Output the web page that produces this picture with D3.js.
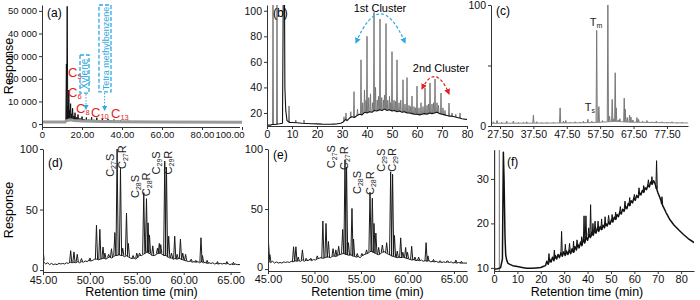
<!DOCTYPE html>
<html>
<head>
<meta charset="utf-8">
<script src="https://cdn.jsdelivr.net/npm/d3@7"></script>
<style>
  body { margin: 0; background: #fff; }
  svg { font-family: "Liberation Sans", Arial, sans-serif; }
  .tick line, .domain { stroke: #333; }
  .tick text { fill: #111; }
</style>
</head>
<body>
<svg id="fig" width="700" height="300"></svg>
<script>
// ---- (a) whole oil GC, response vs time ----
var aBase = [[0, 900], [11.5, 900], [12, 1400], [14, 1900], [16, 1600], [20, 1300], [30, 1100], [40, 1000], [60, 950], [100, 850]];
var aPeaks = [[12.2, 26500], [12.6, 52000], [13.0, 8000], [13.4, 15000], [13.8, 6000], [14.3, 9000], [14.8, 4500],
  [15.3, 7000], [15.9, 3500], [16.5, 5000], [17.2, 3000], [18.0, 4200], [19.0, 2600], [20.0, 3300], [21.0, 2200],
  [22.2, 2900], [23.5, 2000], [24.8, 3000], [26.0, 1900], [27.4, 2800], [28.8, 1800], [30.2, 2500], [31.6, 1700],
  [33.0, 2300], [34.5, 1600], [36.0, 2000], [37.6, 1500], [39.2, 1700], [41.0, 1400], [43.0, 1500], [45.0, 1300],
  [47.5, 1300], [50.0, 1200], [53.0, 1200], [56.0, 1100], [60.0, 1100], [64.0, 1200], [66.0, 1100]];
var aYTicks = [0, 10000, 20000, 30000, 40000, 50000];
var aXTicks = [0, 20, 40, 60, 80, 100];
var aCarbon = [["5", 13, 20800], ["6", 13, 11900], ["8", 17, 4900], ["10", 24.5, 3100], ["13", 34.5, 2650]];

// ---- (b) saturates, two clusters ----
var bBase = [[0, 10.5], [1.5, 10.5], [2, 11], [3, 11], [5, 11.5], [6.2, 12], [6.5, 110], [7.0, 110], [7.15, 40], [7.5, 22],
  [8.0, 14], [9, 12.5], [10, 12.5], [12, 12.3], [14, 12], [16, 11.8], [18, 11.6], [20, 11.5], [22, 11.3], [24, 11.2],
  [26, 11.3], [28, 11.5], [29.5, 12], [30.5, 13], [31.5, 15], [32, 14], [33, 16], [34, 17], [35, 16.5], [36, 18],
  [37, 19], [38, 18.5], [39, 20.5], [40, 20], [41, 21], [42, 20.5], [43, 22], [44, 21.5], [45, 22.5], [46, 22],
  [47, 23], [48, 22], [49, 22.5], [50, 21.5], [51, 22], [52, 21], [53, 21.5], [54, 20.5], [55, 21], [56, 20],
  [57, 20], [58, 19.5], [59, 19], [60, 19], [61, 18.5], [62, 19], [63, 19.5], [64, 19], [65, 20], [66, 19.5],
  [67, 20], [68, 20.5], [69, 19.5], [70, 19], [71, 18.5], [72, 18], [73, 17.5], [74, 17.5], [75, 17], [76, 16.5],
  [77, 16], [78, 15.5], [79, 15.2], [80, 15]];
var bPeaks = [[2.4, 110], [4.0, 110], [8.8, 25.5], [11.5, 14.5], [14.8, 14.5], [30.8, 17], [31.6, 20], [33.5, 21],
  [34.8, 36.7], [36.2, 23], [37.6, 61.6], [38.3, 28], [39.0, 38], [39.6, 30], [40.0, 80], [40.7, 32], [41.4, 35],
  [42.2, 28], [42.8, 98.7], [43.4, 40], [44.1, 30], [44.6, 33], [45.2, 93.5], [45.9, 32], [46.6, 30], [47.0, 34],
  [47.6, 90], [48.3, 30], [49.0, 33], [49.4, 28], [50.0, 68], [50.8, 30], [51.4, 29], [52.0, 61.6], [52.8, 28],
  [53.5, 30], [54.4, 46], [55.2, 27], [56.0, 47.7], [56.8, 26], [57.4, 25], [58.0, 33.3], [58.8, 25], [59.4, 24],
  [60.0, 41], [60.8, 24], [61.6, 28], [62.4, 25], [63.2, 39.6], [64.0, 26], [64.6, 27], [65.2, 43.5], [66.0, 27],
  [66.6, 28], [67.2, 46.6], [68.0, 28], [68.6, 26], [69.6, 35.6], [70.4, 24], [71.2, 22], [72.8, 27.8], [74.0, 20],
  [75.5, 19], [77.2, 20]];
var bYTicks = [20, 40, 60, 80, 100];
var bXTicks = [0, 10, 20, 30, 40, 50, 60, 70, 80];

// ---- (c) terpanes m/z 191 ----
var cBase = [[24.8, 2.2], [30, 2.3], [40, 2.4], [50, 2.6], [55, 2.8], [58, 3.2], [60, 3.5], [62, 3.8], [64, 3.5],
  [66, 3.2], [70, 3], [75, 2.8], [80, 2.6], [83.8, 2.5]];
var cPeaks = [[25.5, 3.5], [26.6, 4.5], [28, 3], [29.5, 4], [31.5, 4], [33, 3], [34.5, 3], [35.5, 3.5], [37.5, 9],
  [38.5, 3.5], [40, 2.8], [41.5, 3], [43.5, 3], [45.5, 15], [46.5, 4], [47.2, 4.5], [48.5, 3.2], [50, 3.5],
  [51.5, 3.2], [52.5, 4], [53.8, 5.5], [55, 4], [56.45, 79], [57.1, 16], [58.2, 4.5], [59.8, 100], [60.3, 8],
  [61.1, 22], [61.4, 6], [62.0, 44], [62.3, 15], [62.9, 5], [63.4, 6], [64.7, 23], [65.0, 14], [65.6, 7], [66.3, 9],
  [66.7, 7.5], [67.3, 5], [68.5, 7], [69.0, 5.5], [70.2, 4], [71.5, 4.5], [73, 3.5], [74.3, 4], [76, 3.5],
  [77.5, 3.2], [79, 3.5], [80.5, 3], [82, 3.2]];
var cYTicks = [0, 50, 100];
var cXTicks = [27.5, 37.5, 47.5, 57.5, 67.5, 77.5];

// ---- (d) steranes sample 1 ----
var dBase = [[45.0, 8], [45.15, 6], [45.3, 5], [45.5, 6], [45.7, 4.5], [45.9, 5.5], [46.1, 4.5], [46.3, 5], [46.5, 4.5],
  [46.7, 5.5], [46.9, 5], [47.1, 5.5], [47.3, 5], [47.5, 6], [47.7, 5.5], [47.9, 6.5], [48.1, 6], [48.3, 6.5],
  [48.5, 6], [48.7, 7], [48.9, 6], [49.1, 7], [49.3, 6.5], [49.5, 7.5], [49.7, 7], [49.9, 8], [50.1, 7.5], [50.3, 8],
  [50.5, 9], [50.7, 9], [50.9, 8.5], [51.1, 9], [51.3, 9.5], [51.5, 10], [51.7, 9], [51.9, 10], [52.1, 11], [52.3, 10],
  [52.5, 11], [52.7, 12], [52.9, 12], [53.1, 13], [53.3, 12], [53.5, 12], [53.7, 11], [53.9, 12], [54.1, 11],
  [54.3, 10], [54.5, 9.5], [54.7, 10], [54.9, 9], [55.1, 11], [55.3, 12], [55.5, 12], [55.7, 13], [55.9, 14],
  [56.1, 15], [56.3, 14], [56.5, 13], [56.7, 12], [56.9, 12], [57.1, 13], [57.3, 14], [57.5, 14], [57.7, 13],
  [57.9, 12], [58.1, 12], [58.3, 11], [58.5, 10], [58.7, 10], [58.9, 9], [59.1, 9.5], [59.3, 9], [59.5, 10],
  [59.7, 9], [59.9, 8.5], [60.1, 8], [60.3, 7.5], [60.5, 7], [60.7, 7.5], [60.9, 6.5], [61.1, 7], [61.3, 6.5],
  [61.5, 7], [61.7, 6], [61.9, 7], [62.1, 6], [62.3, 6.5], [62.5, 5.5], [62.7, 6], [62.9, 5.5], [63.1, 6], [63.3, 5],
  [63.5, 5.5], [63.7, 5], [63.9, 5.5], [64.1, 5], [64.3, 5.5], [64.5, 5], [64.7, 5.5], [64.9, 4.5], [65.1, 5],
  [65.3, 4.5], [65.5, 5], [65.7, 4.5], [66.0, 4.5]];
var dPeaks = [[45.0, 18], [47.95, 16], [48.3, 15], [48.65, 13], [49.1, 9.5], [50.0, 10], [50.7, 37], [51.06, 33.6],
  [51.4, 19], [51.6, 14], [52.0, 13], [52.3, 17.6], [52.66, 31], [52.9, 100], [53.26, 84], [53.5, 18], [53.9, 47],
  [54.1, 22], [54.6, 12], [55.0, 14], [55.3, 14], [55.74, 64], [56.03, 59], [56.2, 39], [56.35, 29], [56.7, 20],
  [57.2, 18], [57.4, 22], [57.55, 21], [57.98, 90], [58.16, 85], [58.4, 28], [58.7, 14], [59.04, 28], [59.3, 13],
  [59.65, 25.6], [59.9, 14], [60.2, 13], [60.8, 9], [61.3, 8], [61.84, 26.7], [62.0, 12], [62.5, 8], [63.6, 7],
  [64.6, 7], [65.3, 6.5]];
var dLabels = [["27", "S", 52.6, 77], ["27", "R", 53.8, 83.5], ["28", "S", 55.27, 59.5], ["28", "R", 56.44, 61],
  ["29", "S", 57.45, 79], ["29", "R", 58.72, 79]];

// ---- (e) steranes sample 2 ----
var eBase = [[45.0, 9], [45.15, 6], [45.3, 5.5], [45.5, 6.5], [45.7, 5], [45.9, 6], [46.1, 5], [46.3, 5.5], [46.5, 5],
  [46.7, 6], [46.9, 5.5], [47.1, 6], [47.3, 5.5], [47.5, 6.5], [47.7, 6], [47.9, 7], [48.1, 6.5], [48.3, 7],
  [48.5, 6.5], [48.7, 7.5], [48.9, 6.5], [49.1, 7.5], [49.3, 7], [49.5, 8], [49.7, 7], [49.9, 8], [50.1, 7.5],
  [50.3, 8.5], [50.5, 9], [50.7, 9.5], [50.9, 9], [51.1, 9.5], [51.3, 10], [51.5, 10], [51.7, 9.5], [51.9, 10.5],
  [52.1, 11], [52.3, 10.5], [52.5, 11.5], [52.7, 12], [52.9, 12.5], [53.1, 13], [53.3, 12.5], [53.5, 12],
  [53.7, 11.5], [53.9, 12], [54.1, 11], [54.3, 10.5], [54.5, 10], [54.7, 10.5], [54.9, 9.5], [55.1, 11], [55.3, 12],
  [55.5, 12.5], [55.7, 13], [55.9, 14], [56.1, 15], [56.3, 14], [56.5, 13.5], [56.7, 12.5], [56.9, 12], [57.1, 13],
  [57.3, 14], [57.5, 14.5], [57.7, 13.5], [57.9, 12.5], [58.1, 12], [58.3, 11], [58.5, 10.5], [58.7, 10], [58.9, 9.5],
  [59.1, 10], [59.3, 9.5], [59.5, 10], [59.7, 9.5], [59.9, 9], [60.1, 8.5], [60.3, 8], [60.5, 7.5], [60.7, 8],
  [60.9, 7], [61.1, 7.5], [61.3, 7], [61.5, 7.5], [61.7, 6.5], [61.9, 7], [62.1, 6.5], [62.3, 7], [62.5, 6],
  [62.7, 6.5], [62.9, 6], [63.1, 6.5], [63.3, 5.5], [63.5, 6], [63.7, 5.5], [63.9, 6], [64.1, 5.5], [64.3, 6],
  [64.5, 5.5], [64.7, 6], [64.9, 5], [65.1, 5.5], [65.3, 5], [65.5, 5.5], [65.7, 5], [66.0, 5], [66.4, 5]];
var ePeaks = [[45.05, 23], [45.2, 12], [47.75, 18.6], [48.0, 18.6], [48.25, 10], [48.7, 16], [49.1, 9], [49.6, 9],
  [50.3, 11], [50.9, 40], [51.24, 38], [51.5, 23], [52.0, 17], [52.3, 16], [52.6, 19], [53.03, 33], [53.28, 91],
  [53.45, 85], [53.65, 22], [54.03, 50.5], [54.2, 25], [54.6, 13], [55.1, 13], [55.6, 16], [55.97, 64], [56.22, 59],
  [56.4, 38], [56.6, 30], [56.9, 18], [57.3, 20], [57.76, 22], [58.19, 81], [58.4, 79], [58.6, 28], [58.9, 15],
  [59.27, 26], [59.5, 14], [59.8, 18], [60.0, 14], [60.45, 19], [60.8, 10], [61.2, 10], [62.0, 22], [62.2, 11],
  [62.8, 8], [63.5, 7], [64.3, 7], [65.2, 7.5], [65.8, 6.5]];
var eLabels = [["27", "S", 52.2, 84], ["27", "R", 53.6, 82.5], ["28", "S", 55.05, 62.5], ["28", "R", 56.4, 61.7],
  ["29", "S", 57.6, 81], ["29", "R", 58.76, 81]];
var steraneXTicks = [45, 50, 55, 60, 65];
var steraneYTicks = [0, 50, 100];

// ---- (f) hump ----
var fBase = [[0, 9.7], [1.5, 9.8], [2.8, 10], [3.6, 12], [4.0, 36], [4.3, 30], [4.7, 17], [5.0, 13], [5.4, 11.8],
  [6, 11], [6.8, 10.8], [8, 10.5], [10, 10.3], [12, 10.1], [14, 9.9], [16, 9.9], [18, 10], [20, 10.1], [21, 10.3],
  [22, 10.5], [22.6, 11.5], [23.2, 10.8], [23.8, 12], [24.4, 11.3], [25, 12.4], [25.6, 11.6], [26.2, 12.8],
  [26.8, 12], [27.4, 13], [28, 12.3], [28.6, 13.4], [29.2, 12.6], [29.8, 13.6], [30.4, 12.8], [31, 13.8], [31.6, 13],
  [32.2, 14], [32.8, 13.2], [33.4, 14.3], [34, 13.5], [34.6, 14.8], [35.2, 14], [35.8, 15.3], [36.4, 14.5], [37, 15.8],
  [37.6, 15], [38.2, 16.5], [38.8, 15.6], [39.4, 17], [40, 16.2], [40.6, 17.5], [41.2, 16.8], [41.8, 18], [42.4, 17.3],
  [43, 18.5], [43.6, 17.8], [44.2, 19], [44.8, 18.2], [45.4, 19.3], [46, 18.6], [46.6, 19.6], [47.2, 19], [47.8, 20],
  [48.4, 19.4], [49, 20.4], [49.6, 19.8], [50.2, 20.8], [50.8, 20.3], [51.4, 21.4], [52, 20.9], [52.6, 22],
  [53.2, 21.5], [53.8, 22.6], [54.4, 22.1], [55, 23.2], [55.6, 22.7], [56.2, 23.8], [56.8, 23.3], [57.4, 24.5],
  [58, 24], [58.6, 25.1], [59.2, 24.6], [59.8, 25.7], [60.4, 25.2], [61, 26.3], [61.6, 25.8], [62.2, 26.9],
  [62.8, 26.4], [63.4, 27.4], [64, 27], [64.6, 28], [65.2, 27.6], [65.8, 28.6], [66.4, 28.2], [67, 29.3], [67.6, 28.8],
  [68.2, 29.6], [68.8, 29], [69.4, 28], [70, 27], [70.6, 26.2], [71.2, 25.4], [71.8, 24.4], [72.5, 23.6],
  [73.5, 22.5], [75, 21], [77, 19.6], [79, 18.5], [81, 17.5], [83, 16.6], [85.5, 15.7]];
var fPeaks = [[23.5, 13.2], [25.8, 14], [28.9, 18.2], [30.5, 15.3], [32.3, 15.5], [34, 16], [35.5, 16.3], [37.5, 17],
  [38.5, 21.7], [39.3, 21.7], [40.5, 19], [41.3, 24.2], [42.3, 20], [43.2, 20.5], [44.5, 20.5], [46, 21], [47.5, 21.5],
  [49, 21.8], [50.5, 22], [52, 22.5], [54, 23.8], [56, 25], [58, 25.8], [60, 26.5], [62, 28], [64, 28.5], [66, 29.8],
  [67.5, 30.5], [69.5, 34.1], [71.8, 26]];
var fSolvent = [[0.3, 40], [2.3, 40]];
var fYTicks = [10, 20, 30];
var fXTicks = [0, 10, 20, 30, 40, 50, 60, 70, 80];

var svg = d3.select('#fig');
var blue = '#2fa9e0', red = '#e3231b';
var spaceFmt = d3.formatLocale({decimal: '.', thousands: ' ', grouping: [3], currency: ['', '']}).format(',');

var defs = svg.append('defs');
[['arrBlue', blue], ['arrRed', red]].forEach(function (m) {
  defs.append('marker').attr('id', m[0]).attr('viewBox', '0 0 10 10').attr('refX', 8).attr('refY', 5)
    .attr('markerWidth', 5).attr('markerHeight', 5).attr('orient', 'auto-start-reverse')
    .append('path').attr('d', 'M0,0L10,5L0,10Z').attr('fill', m[1]);
});

// generic chromatogram panel
function panel(p) {
  var x = d3.scaleLinear().domain(p.xDomain).range(p.xRange);
  var y = d3.scaleLinear().domain(p.yDomain).range(p.yRange);
  var g = svg.append('g').attr('class', 'panel-' + p.id);
  var clipId = 'clip-' + p.id;
  defs.append('clipPath').attr('id', clipId).append('rect')
    .attr('x', p.xRange[0]).attr('y', p.yRange[1])
    .attr('width', p.xRange[1] - p.xRange[0]).attr('height', p.yRange[0] - p.yRange[1]);
  var plot = g.append('g').attr('clip-path', 'url(#' + clipId + ')');

  // baseline value under any time, through a piecewise linear scale
  var baseAt = d3.scaleLinear().domain(p.base.map(function (d) { return d[0]; }))
    .range(p.base.map(function (d) { return d[1]; })).clamp(true);

  (p.extra || []).forEach(function (ex) {
    plot.selectAll(null).data(ex.data).enter().append('line')
      .attr('x1', function (d) { return x(d[0]); }).attr('x2', function (d) { return x(d[0]); })
      .attr('y1', p.yRange[0]).attr('y2', function (d) { return y(d[1]); })
      .attr('stroke', ex.color).attr('stroke-width', ex.width);
  });

  var hw = p.peakHalf;
  plot.selectAll('path.pk').data(p.peaks).enter().append('path').attr('class', 'pk')
    .attr('fill', 'none').attr('stroke', p.peakColor).attr('stroke-width', p.peakWidth)
    .attr('stroke-linejoin', 'miter')
    .attr('d', function (d) {
      var yb = y(baseAt(d[0])), xp = x(d[0]);
      return 'M' + (xp - hw) + ',' + yb + 'L' + xp + ',' + y(d[1]) + 'L' + (xp + hw) + ',' + yb;
    });

  plot.append('path').datum(p.base)
    .attr('fill', 'none').attr('stroke', p.baseColor).attr('stroke-width', p.baseWidth)
    .attr('stroke-linejoin', 'round')
    .attr('d', d3.line().x(function (d) { return x(d[0]); }).y(function (d) { return y(d[1]); }));

  var xa = g.append('g').attr('transform', 'translate(0,' + p.yRange[0] + ')')
    .call(d3.axisBottom(x).tickValues(p.xTicks).tickFormat(p.xFmt).tickSize(3).tickSizeOuter(0).tickPadding(1.5));
  xa.selectAll('text').attr('font-size', p.xFontSize || p.fontSize);
  var ya = g.append('g').attr('transform', 'translate(' + p.xRange[0] + ',0)')
    .call(d3.axisLeft(y).tickValues(p.yTicks).tickFormat(p.yFmt).tickSize(3).tickSizeOuter(0).tickPadding(2));
  ya.selectAll('text').attr('font-size', p.yFontSize || p.fontSize);

  g.append('text').attr('x', p.xRange[0] + p.tag[0]).attr('y', p.yRange[1] + p.tag[1])
    .attr('font-size', 12).text('(' + p.id + ')');
  return {g: g, x: x, y: y, xa: xa, ya: ya};
}

var fmt2 = d3.format('.2f');

// (a)
var A = panel({id: 'a', xDomain: [0, 100], xRange: [42, 242], yDomain: [-1300, 52600], yRange: [127, 5],
  base: aBase, peaks: aPeaks, baseColor: '#9a9a9a', baseWidth: 3, peakColor: '#111', peakWidth: 1, peakHalf: 0.6,
  xTicks: aXTicks, xFmt: function (d) { return d === 0 ? '0' : fmt2(d); }, yTicks: aYTicks, yFmt: spaceFmt,
  fontSize: 10.5, xFontSize: 9.5, yFontSize: 9.5, tag: [5, 12]});
A.xa.selectAll('.tick text').filter(function (d) { return d === 100; }).attr('text-anchor', 'end').attr('dx', 2);
A.xa.select('.domain').attr('d', 'M42,0.5H240');
aCarbon.forEach(function (c) {
  var t = A.g.append('text').attr('x', A.x(c[1])).attr('y', A.y(c[2])).attr('fill', red).attr('font-size', 13);
  t.append('tspan').text('C');
  t.append('tspan').attr('font-size', 7.5).attr('dy', 2).text(c[0]);
});
[['Xylene', 19, 23.5, 30500, 13700, 22, 6600, 10], ['Tetra methylbenzene', 28.5, 34.5, 52600, 14200, 31.3, 6200, 9]].forEach(function (b) {
  var x0 = A.x(b[1]), x1 = A.x(b[2]), y0 = A.y(b[3]), y1 = A.y(b[4]);
  A.g.append('rect').attr('x', x0).attr('y', y0).attr('width', x1 - x0).attr('height', y1 - y0)
    .attr('fill', 'none').attr('stroke', blue).attr('stroke-width', 1.3).attr('stroke-dasharray', '4,2');
  A.g.append('text').attr('transform', 'translate(' + ((x0 + x1) / 2 + 3.5) + ',' + ((y0 + y1) / 2) + ') rotate(-90)')
    .attr('text-anchor', 'middle').attr('font-size', b[7]).attr('fill', blue).text(b[0]);
  A.g.append('line').attr('x1', A.x(b[5])).attr('x2', A.x(b[5])).attr('y1', y1 + 1).attr('y2', A.y(b[6]))
    .attr('stroke', blue).attr('stroke-width', 1).attr('stroke-dasharray', '1.5,1.5').attr('marker-end', 'url(#arrBlue)');
});
svg.append('text').attr('transform', 'translate(13,66) rotate(-90)').attr('text-anchor', 'middle')
  .attr('font-size', 12.5).text('Response');

// (b)
var B = panel({id: 'b', xDomain: [0, 80], xRange: [267, 467], yDomain: [9.8, 104.5], yRange: [126, 5],
  base: bBase, peaks: bPeaks, baseColor: '#111', baseWidth: 1.1, peakColor: '#707070', peakWidth: 0.9, peakHalf: 0.5,
  xTicks: bXTicks, xFmt: d3.format('d'), yTicks: bYTicks, yFmt: d3.format('d'), fontSize: 10.5, tag: [6, 12]});
B.g.append('text').attr('x', B.x(45.2)).attr('y', B.y(99.2)).attr('text-anchor', 'middle').attr('font-size', 11).text('1st Cluster');
B.g.append('text').attr('x', B.x(69.6)).attr('y', B.y(52.3)).attr('text-anchor', 'middle').attr('font-size', 11).text('2nd Cluster');
[[35.6, 75, 45.4, 120, 55.2, 75, blue, 'arrBlue'], [62, 39, 67.4, 59.7, 72.8, 35, red, 'arrRed']].forEach(function (a) {
  B.g.append('path')
    .attr('d', 'M' + B.x(a[0]) + ',' + B.y(a[1]) + 'Q' + B.x(a[2]) + ',' + B.y(a[3]) + ' ' + B.x(a[4]) + ',' + B.y(a[5]))
    .attr('fill', 'none').attr('stroke', a[6]).attr('stroke-width', 1.2).attr('stroke-dasharray', '3,2')
    .attr('marker-start', 'url(#' + a[7] + ')').attr('marker-end', 'url(#' + a[7] + ')');
});

// (c)
var C = panel({id: 'c', xDomain: [24.8, 83.8], xRange: [491, 688], yDomain: [0, 100], yRange: [126, 5],
  base: cBase, peaks: cPeaks, baseColor: '#8a8a8a', baseWidth: 1, peakColor: '#777', peakWidth: 1, peakHalf: 0.6,
  xTicks: cXTicks, xFmt: fmt2, yTicks: cYTicks, yFmt: function (d) { return d === 50 ? '' : d; },
  fontSize: 10.5, tag: [5, 10]});
[['m', 54.4, 83], ['s', 52.9, 12]].forEach(function (l) {
  var t = C.g.append('text').attr('x', C.x(l[1])).attr('y', C.y(l[2])).attr('font-size', 11).attr('fill', '#222');
  t.append('tspan').text('T');
  t.append('tspan').attr('font-size', 7).attr('dy', 2).text(l[0]);
});

// (d), (e)
function steranes(id, base, peaks, labels, xDomain, xRange, yRange, tag) {
  var P = panel({id: id, xDomain: xDomain, xRange: xRange, yDomain: [-1.6, 100], yRange: yRange,
    base: base, peaks: peaks, baseColor: '#1a1a1a', baseWidth: 1, peakColor: '#1a1a1a', peakWidth: 1, peakHalf: 1.1,
    xTicks: steraneXTicks, xFmt: fmt2, yTicks: steraneYTicks, yFmt: d3.format('d'), fontSize: 11, tag: tag});
  P.ya.selectAll('.tick text').filter(function (d) { return d === 0; }).attr('dy', '0.1em');
  labels.forEach(function (l) {
    var t = P.g.append('text').attr('transform', 'translate(' + P.x(l[2]) + ',' + P.y(l[3]) + ') rotate(-90)')
      .attr('font-size', 11).attr('fill', '#222');
    t.append('tspan').text('C');
    t.append('tspan').attr('font-size', 7).attr('dy', 2).text(l[0]);
    t.append('tspan').attr('dy', -2).text(l[1]);
  });
  P.g.append('text').attr('x', (xRange[0] + xRange[1]) / 2).attr('y', 296).attr('text-anchor', 'middle')
    .attr('font-size', 12.5).text('Retention time (min)');
  return P;
}
steranes('d', dBase, dPeaks, dLabels, [45, 66], [43, 240], [272, 149], [5, 18]);
steranes('e', eBase, ePeaks, eLabels, [45, 66.4], [268, 467], [271, 149], [5, 10]);
svg.append('text').attr('transform', 'translate(13,210) rotate(-90)').attr('text-anchor', 'middle')
  .attr('font-size', 12.5).text('Response');

// (f)
var F = panel({id: 'f', xDomain: [0, 85.5], xRange: [494, 694], yDomain: [9.3, 36.5], yRange: [271, 150],
  base: fBase, peaks: fPeaks, baseColor: '#111', baseWidth: 1.5, peakColor: '#111', peakWidth: 1, peakHalf: 0.7,
  extra: [{data: fSolvent, color: '#8a8a8a', width: 1.2}],
  xTicks: fXTicks, xFmt: d3.format('d'), yTicks: fYTicks, yFmt: d3.format('d'), fontSize: 11, tag: [13, 16]});
F.g.append('text').attr('x', 587).attr('y', 296).attr('text-anchor', 'middle')
  .attr('font-size', 12.5).text('Retention time (min)');
</script>
</body>
</html>
